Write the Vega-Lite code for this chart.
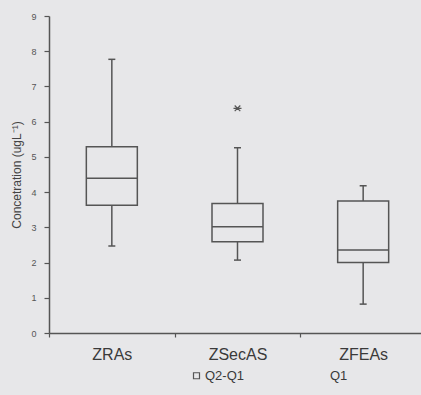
{
  "$schema": "https://vega.github.io/schema/vega-lite/v6.json",
  "autosize": {"type": "none"},
  "padding": {"left": 49, "top": 16, "right": 0, "bottom": 62},
  "width": 372,
  "height": 317,
  "background": "#e7e7e9",
  "config": {
    "font": "Liberation Sans",
    "view": {"stroke": null},
    "axis": {"grid": false, "domainColor": "#555555", "domainWidth": 1.5, "tickColor": "#555555", "tickWidth": 1.2, "labelColor": "#444444", "titleColor": "#444444"},
    "axisY": {"labelOverlap": false, "titleFontSize": 12, "titleFontWeight": "normal", "titlePadding": 7, "labelFontSize": 9, "labelPadding": 8, "tickSize": 5, "labelColor": "#555555"}
  },
  "data": {
    "values": [
      {"site": "ZRAs", "min": 2.47, "q1": 3.63, "median": 4.39, "q3": 5.29, "max": 7.77, "outlier": null, "series": "Q2-Q1"},
      {"site": "ZSecAS", "min": 2.07, "q1": 2.59, "median": 3.02, "q3": 3.68, "max": 5.26, "outlier": 6.38, "series": "Q2-Q1"},
      {"site": "ZFEAs", "min": 0.82, "q1": 2.0, "median": 2.36, "q3": 3.75, "max": 4.18, "outlier": null, "series": "Q2-Q1"}
    ]
  },
  "encoding": {
    "x": {
      "field": "site", "type": "nominal", "sort": null,
      "scale": {"range": [0, 377], "paddingInner": 0, "paddingOuter": 0},
      "axis": {"title": null, "labelAngle": 0, "labelFontSize": 16, "labelPadding": 9, "tickSize": 4, "tickBand": "extent", "labelColor": "#3a3a3a"}
    }
  },
  "layer": [
    {
      "mark": {"type": "rule", "color": "#555555", "strokeWidth": 1.5},
      "encoding": {
        "y": {"field": "min", "type": "quantitative", "scale": {"domain": [0, 9], "nice": false},
          "axis": {"values": [0,1,2,3,4,5,6,7,8,9], "title": "Concetration (ugL⁻¹)"}},
        "y2": {"field": "max"}
      }
    },
    {
      "mark": {"type": "bar", "size": 51, "fill": "#e7e7e9", "strokeWidth": 1.5},
      "encoding": {
        "y": {"field": "q1", "type": "quantitative", "axis": {"values": [0,1,2,3,4,5,6,7,8,9], "title": "Concetration (ugL⁻¹)"}},
        "y2": {"field": "q3"},
        "stroke": {
          "field": "series", "type": "nominal",
          "scale": {"domain": ["Q2-Q1", "Q1"], "range": ["#555555", "rgba(0,0,0,0)"]},
          "legend": {
            "title": null, "orient": "none", "direction": "horizontal", "legendX": 141, "legendY": 353,
            "symbolType": "square", "symbolSize": 36, "symbolFillColor": "#e7e7e9", "symbolStrokeWidth": 1.2,
            "labelFontSize": 13, "labelColor": "#3a3a3a", "labelOffset": 2, "columnPadding": 70, "padding": 0
          }
        }
      }
    },
    {
      "mark": {"type": "tick", "size": 51, "thickness": 1.5, "color": "#555555", "opacity": 1},
      "encoding": {"y": {"field": "median", "type": "quantitative", "axis": {"values": [0,1,2,3,4,5,6,7,8,9], "title": "Concetration (ugL⁻¹)"}}}
    },
    {
      "mark": {"type": "tick", "size": 7, "thickness": 1.5, "color": "#555555", "opacity": 1},
      "encoding": {"y": {"field": "min", "type": "quantitative", "axis": {"values": [0,1,2,3,4,5,6,7,8,9], "title": "Concetration (ugL⁻¹)"}}}
    },
    {
      "mark": {"type": "tick", "size": 7, "thickness": 1.5, "color": "#555555", "opacity": 1},
      "encoding": {"y": {"field": "max", "type": "quantitative", "axis": {"values": [0,1,2,3,4,5,6,7,8,9], "title": "Concetration (ugL⁻¹)"}}}
    },
    {
      "transform": [{"filter": "datum.outlier != null"}],
      "mark": {"type": "point", "filled": false, "color": "#555555", "strokeWidth": 1.2, "size": 64, "opacity": 1,
        "shape": "M-1,0L1,0M-0.7,-0.7L0.7,0.7M-0.7,0.7L0.7,-0.7"},
      "encoding": {"y": {"field": "outlier", "type": "quantitative", "axis": {"values": [0,1,2,3,4,5,6,7,8,9], "title": "Concetration (ugL⁻¹)"}}}
    }
  ]
}
